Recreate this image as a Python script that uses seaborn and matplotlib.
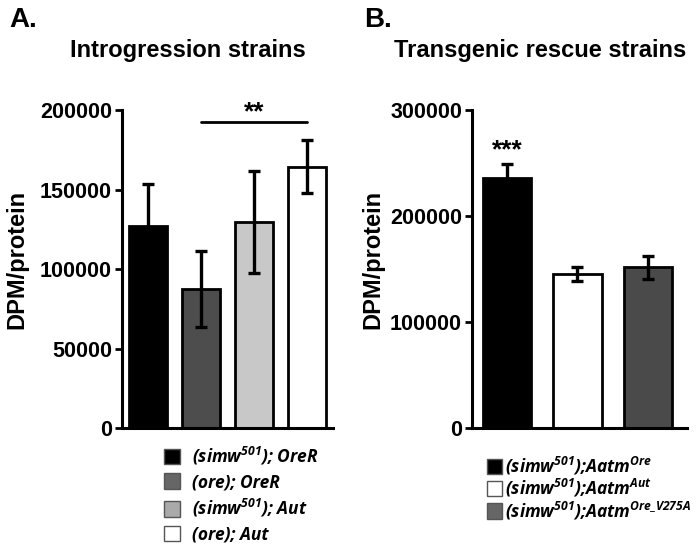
import seaborn as sns
import pandas as pd
import matplotlib.pyplot as plt
from matplotlib.patches import Patch

# panel A - introgression strains
strains_a = ["(simw$^{501}$); OreR", "(ore); OreR", "(simw$^{501}$); Aut", "(ore); Aut"]
mean_a = [127000, 87500, 129500, 164500]
err_a = [26500, 24000, 32000, 16500]
colors_a = ["#000000", "#4d4d4d", "#c8c8c8", "#ffffff"]
legend_colors_a = ["#000000", "#666666", "#aaaaaa", "#ffffff"]

# panel B - transgenic rescue strains
strains_b = ["(simw$^{501}$);Aatm$^{Ore}$", "(simw$^{501}$);Aatm$^{Aut}$",
             "(simw$^{501}$);Aatm$^{Ore\\_V275A}$"]
mean_b = [235500, 145500, 151500]
err_b = [13500, 6500, 10500]
colors_b = ["#000000", "#ffffff", "#4a4a4a"]
legend_colors_b = ["#000000", "#ffffff", "#666666"]

sns.set_style("ticks")
plt.rcParams["font.family"] = ["Liberation Sans", "DejaVu Sans"]
plt.rcParams["text.color"] = "black"
plt.rcParams["axes.labelcolor"] = "black"
plt.rcParams["ytick.color"] = "black"
plt.rcParams["axes.edgecolor"] = "black"
plt.rcParams["mathtext.fontset"] = "custom"
plt.rcParams["mathtext.rm"] = "Open Sans:italic:bold"
plt.rcParams["mathtext.it"] = "Open Sans:italic:bold"
plt.rcParams["mathtext.bf"] = "Open Sans:italic:bold"

fig = plt.figure(figsize=(7, 5.52), dpi=100)
ax1 = fig.add_axes([0.174, 0.2246, 0.302, 0.576])
ax2 = fig.add_axes([0.674, 0.2246, 0.307, 0.576])

df_a = pd.DataFrame({"strain": strains_a, "dpm": mean_a})
df_b = pd.DataFrame({"strain": strains_b, "dpm": mean_b})

def draw(ax, df, errs, colors, width):
    sns.barplot(data=df, x="strain", y="dpm", hue="strain", palette=colors,
                errorbar=None, width=width, edgecolor="black", linewidth=2,
                legend=False, ax=ax, saturation=1)
    ax.errorbar(range(len(df)), df["dpm"], yerr=errs, fmt="none", ecolor="black",
                elinewidth=2.4, capsize=4, capthick=2.4, zorder=5)
    for s in ["top", "right"]:
        ax.spines[s].set_visible(False)
    for s in ["left", "bottom"]:
        ax.spines[s].set_linewidth(2.2)
    ax.set_xticks([])
    ax.set_xlabel("")
    ax.set_ylabel("DPM/protein", fontsize=17, fontweight="bold")
    ax.tick_params(axis="y", width=2, length=5, labelsize=15.5, pad=2)

draw(ax1, df_a, err_a, colors_a, 0.72)
ax1.set_xlim(-0.5, 3.5)
ax1.set_ylim(0, 200000)
ax1.set_yticks([0, 50000, 100000, 150000, 200000])
ax1.set_yticklabels(["0", "50000", "100000", "150000", "200000"], fontweight="bold")
ax1.yaxis.set_label_coords(-0.44, 0.53)
ax1.plot([1, 3], [192400, 192400], color="black", lw=2, clip_on=False)
ax1.text(2, 198500, "**", ha="center", va="center", fontsize=19, fontweight="bold")

draw(ax2, df_b, err_b, colors_b, 0.69)
ax2.set_xlim(-0.5, 2.55)
ax2.set_ylim(0, 300000)
ax2.set_yticks([0, 100000, 200000, 300000])
ax2.set_yticklabels(["0", "100000", "200000", "300000"], fontweight="bold")
ax2.yaxis.set_label_coords(-0.405, 0.53)
ax2.text(0, 262000, "***", ha="center", va="center", fontsize=19, fontweight="bold")

fig.text(0.268, 0.909, "Introgression strains", ha="center", va="center",
         fontsize=17, fontweight="bold")
fig.text(0.771, 0.909, "Transgenic rescue strains", ha="center", va="center",
         fontsize=17, fontweight="bold")
fig.text(0.014, 0.963, "A.", fontsize=20, fontweight="bold", va="center")
fig.text(0.52, 0.963, "B.", fontsize=20, fontweight="bold", va="center")

prop = {"family": "Open Sans", "weight": "bold", "style": "italic", "size": 12.5}
h_a = [Patch(facecolor=c, edgecolor="#555555", linewidth=1) for c in legend_colors_a]
fig.legend(h_a, strains_a, loc="upper left", bbox_to_anchor=(0.225, 0.207),
           frameon=False, prop=prop, handlelength=0.9, handleheight=1.0,
           handletextpad=0.7, labelspacing=0.36, borderaxespad=0)
h_b = [Patch(facecolor=c, edgecolor="#555555", linewidth=1) for c in legend_colors_b]
fig.legend(h_b, strains_b, loc="upper left", bbox_to_anchor=(0.686, 0.189),
           frameon=False, prop=prop, handlelength=0.85, handleheight=1.0,
           handletextpad=0.2, labelspacing=0.02, borderaxespad=0)

plt.savefig("out.png", dpi=100)
